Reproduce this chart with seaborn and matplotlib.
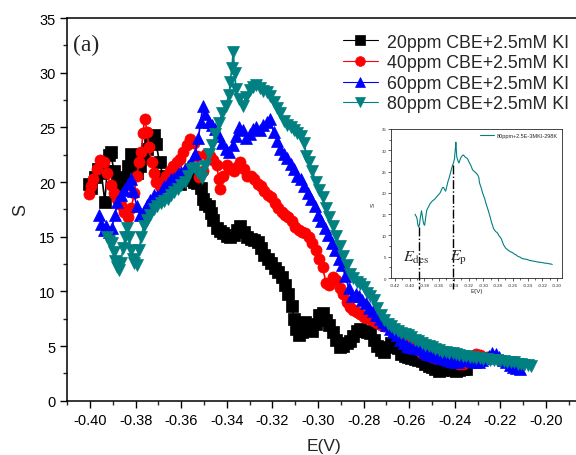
import matplotlib
matplotlib.use("Agg")
import matplotlib.pyplot as plt
import seaborn as sns
from matplotlib.ticker import MultipleLocator

# 20ppm CBE + 2.5mM KI
e20 = [-0.4005, -0.3995, -0.398, -0.3965, -0.395, -0.3935, -0.3925, -0.3915, -0.391, -0.3895,
       -0.388, -0.3865, -0.385, -0.3835, -0.382, -0.381, -0.3795, -0.378, -0.3765, -0.375,
       -0.3735, -0.372, -0.371, -0.3695, -0.368, -0.3665, -0.365, -0.3635, -0.362, -0.3605,
       -0.359, -0.3575, -0.356, -0.3545, -0.353, -0.3515, -0.3505, -0.3495, -0.348, -0.347,
       -0.346, -0.3445, -0.343, -0.3415, -0.34, -0.3385, -0.337, -0.3355, -0.334, -0.3325,
       -0.331, -0.3295, -0.328, -0.3265, -0.325, -0.3235, -0.322, -0.3205, -0.319, -0.3175,
       -0.316, -0.3145, -0.313, -0.3115, -0.3105, -0.3095, -0.3085, -0.307, -0.3055, -0.304,
       -0.3025, -0.301, -0.2995, -0.298, -0.2965, -0.295, -0.2935, -0.292, -0.2905, -0.289,
       -0.2875, -0.286, -0.2845, -0.283, -0.2815, -0.28, -0.2785, -0.277, -0.2755, -0.274,
       -0.2725, -0.271, -0.2695, -0.268, -0.2665, -0.265, -0.2635, -0.262, -0.2605, -0.259,
       -0.2575, -0.256, -0.2545, -0.253, -0.2515, -0.25, -0.2485, -0.247, -0.2455, -0.244,
       -0.2425, -0.241, -0.2395, -0.238, -0.2365, -0.235]
s20 = [19.8, 19.5, 20.5, 21.2, 20.8, 18.2, 21.0, 22.5, 22.8, 21.0,
       20.0, 19.4, 20.5, 21.5, 22.6, 22.0, 20.8, 21.5, 22.3, 23.0,
       23.8, 24.3, 23.5, 21.8, 20.6, 20.0, 20.4, 20.8, 20.2, 19.8,
       20.2, 20.6, 20.3, 20.0, 19.9, 19.5, 18.5, 18.0, 17.8, 17.2,
       16.5, 15.8, 15.5, 15.3, 15.1, 15.0, 15.2, 15.6, 16.0, 15.4,
       15.0, 14.8, 14.7, 14.5, 14.0, 13.3, 13.0, 12.6, 12.1, 11.8,
       11.3, 10.6, 9.8, 8.7, 7.5, 6.6, 6.0, 6.3, 7.2, 6.8,
       6.4, 7.0, 7.8, 8.0, 7.4, 6.9, 6.3, 5.6, 4.9, 5.0,
       5.3, 5.5, 5.9, 6.4, 6.6, 6.4, 6.3, 6.2, 5.6, 5.0,
       4.6, 4.5, 4.9, 5.3, 5.3, 4.8, 4.3, 4.1, 4.0, 3.9,
       3.8, 3.7, 3.6, 3.4, 3.2, 3.1, 2.9, 2.7, 2.8, 3.4,
       3.2, 2.8, 2.7, 2.8, 2.9, 2.9]

# 40ppm CBE + 2.5mM KI
e40 = [-0.4005, -0.3995, -0.3985, -0.397, -0.3955, -0.394, -0.3925, -0.391, -0.3895, -0.388,
       -0.3865, -0.385, -0.3835, -0.382, -0.3805, -0.3795, -0.3785, -0.3775, -0.3768, -0.376,
       -0.375, -0.3742, -0.373, -0.372, -0.371, -0.3695, -0.368, -0.3665, -0.365, -0.3635,
       -0.362, -0.3605, -0.359, -0.3575, -0.356, -0.3545, -0.353, -0.352, -0.3505, -0.349,
       -0.3475, -0.346, -0.3445, -0.3435, -0.343, -0.3415, -0.34, -0.3385, -0.337, -0.3355,
       -0.334, -0.3325, -0.331, -0.3295, -0.328, -0.3265, -0.325, -0.3235, -0.322, -0.3205,
       -0.319, -0.3175, -0.316, -0.3145, -0.313, -0.3115, -0.31, -0.3085, -0.307, -0.3055,
       -0.304, -0.3025, -0.301, -0.2995, -0.298, -0.2965, -0.295, -0.2935, -0.292, -0.2905,
       -0.289, -0.2875, -0.286, -0.2845, -0.283, -0.2815, -0.28, -0.2785, -0.277, -0.2755,
       -0.274, -0.2725, -0.271, -0.2695, -0.268, -0.2665, -0.265, -0.2635, -0.262, -0.2605,
       -0.259, -0.2575, -0.256, -0.2545, -0.253, -0.2515, -0.25, -0.2485, -0.247, -0.2455,
       -0.244, -0.2425, -0.241, -0.2395, -0.238, -0.2365, -0.235, -0.2335, -0.232, -0.2305,
       -0.229, -0.2275, -0.226]
s40 = [18.9, 19.6, 20.3, 21.2, 22.0, 21.8, 20.8, 19.7, 19.0, 18.5,
       17.9, 17.3, 16.8, 17.6, 19.0, 20.6, 21.8, 22.8, 24.5, 25.8,
       24.6, 23.2, 21.8, 20.8, 20.0, 19.6, 20.0, 20.6, 21.0, 21.5,
       21.8, 22.1, 22.8, 23.4, 23.9, 23.6, 22.4, 20.5, 21.0, 22.6,
       22.4, 22.0, 21.6, 20.3, 19.4, 20.6, 21.6, 21.2, 21.0, 21.4,
       21.8, 21.2, 20.6, 20.6, 20.3, 19.8, 19.6, 19.2, 18.8, 18.6,
       18.1, 17.6, 17.3, 17.0, 16.8, 16.4, 15.9, 15.6, 15.4, 15.3,
       15.0, 14.4, 13.8, 13.0, 12.2, 10.8, 10.6, 11.3, 11.0, 10.3,
       9.8, 9.0, 8.6, 8.3, 8.1, 7.9, 7.7, 7.6, 7.5, 7.3,
       7.1, 6.9, 6.8, 6.8, 6.7, 6.6, 6.4, 6.0, 5.6, 5.3,
       5.0, 4.8, 4.6, 4.4, 4.3, 4.2, 4.0, 3.9, 3.9, 3.8,
       3.7, 3.6, 3.6, 3.5, 3.4, 3.4, 3.6, 3.8, 4.1, 4.3,
       4.2, 4.0, 4.0]

# 60ppm CBE + 2.5mM KI
e60 = [-0.396, -0.395, -0.394, -0.393, -0.3915, -0.3905, -0.389, -0.388, -0.3865, -0.385,
       -0.3835, -0.382, -0.381, -0.3795, -0.378, -0.3765, -0.375, -0.3735, -0.372, -0.3705,
       -0.369, -0.3675, -0.366, -0.3645, -0.363, -0.3615, -0.36, -0.3585, -0.357, -0.3555,
       -0.354, -0.3525, -0.3515, -0.3505, -0.3495, -0.348, -0.3465, -0.345, -0.3435, -0.342,
       -0.3405, -0.339, -0.3375, -0.336, -0.3345, -0.333, -0.3315, -0.33, -0.3285, -0.327,
       -0.3255, -0.324, -0.3225, -0.321, -0.3195, -0.318, -0.3165, -0.315, -0.3135, -0.312,
       -0.3105, -0.309, -0.3075, -0.306, -0.3045, -0.303, -0.3015, -0.3, -0.2985, -0.297,
       -0.2955, -0.294, -0.2925, -0.291, -0.2895, -0.288, -0.2865, -0.285, -0.2835, -0.282,
       -0.2805, -0.279, -0.2775, -0.276, -0.2745, -0.273, -0.2715, -0.27, -0.2685, -0.267,
       -0.2655, -0.264, -0.2625, -0.261, -0.2595, -0.258, -0.2565, -0.255, -0.2535, -0.252,
       -0.2505, -0.249, -0.2475, -0.246, -0.2445, -0.243, -0.2415, -0.24, -0.2385, -0.237,
       -0.2355, -0.234, -0.2325, -0.231, -0.2295, -0.228, -0.2265, -0.225, -0.2235, -0.222,
       -0.2205, -0.219, -0.2175, -0.216, -0.2145, -0.213, -0.2115]
s60 = [17.0, 16.2, 15.6, 16.0, 15.4, 15.8, 17.0, 18.2, 18.8, 19.3,
       19.8, 20.3, 19.2, 17.8, 17.0, 17.4, 17.9, 18.4, 18.8, 18.7,
       19.1, 19.6, 19.9, 20.3, 20.4, 20.7, 20.9, 21.2, 21.5, 21.8,
       22.6, 24.0, 25.5, 27.0, 26.2, 25.5, 25.2, 24.9, 24.2, 23.6,
       23.0, 22.8, 23.4, 24.2, 25.0, 24.8, 24.0, 24.4, 24.9, 25.0,
       24.8, 25.2, 25.5, 25.8, 24.6, 23.8, 23.0, 22.6, 22.2, 21.7,
       21.2, 20.6, 20.3, 19.6, 19.0, 18.5, 17.8, 17.0, 16.4, 15.8,
       15.2, 14.4, 13.8, 13.0, 12.4, 11.4, 10.3, 9.6, 9.8, 9.6,
       9.2, 8.9, 8.5, 8.2, 7.8, 7.5, 7.2, 6.9, 6.6, 6.3,
       6.0, 5.6, 5.3, 5.0, 4.9, 4.8, 4.8, 4.7, 4.5, 4.3,
       4.2, 4.1, 4.0, 3.9, 3.8, 3.7, 3.6, 3.5, 3.5, 3.7,
       3.8, 3.7, 3.6, 3.5, 3.5, 3.7, 3.9, 4.1, 4.4, 4.3,
       4.0, 3.7, 3.5, 3.3, 3.1, 3.0, 2.9]

# 80ppm CBE + 2.5mM KI
e80 = [-0.3925, -0.3915, -0.3905, -0.3895, -0.389, -0.3882, -0.3875, -0.3865, -0.3855, -0.3845,
       -0.3838, -0.383, -0.382, -0.3812, -0.3805, -0.3795, -0.3785, -0.3775, -0.3765, -0.375,
       -0.3735, -0.372, -0.3705, -0.369, -0.3675, -0.366, -0.3645, -0.363, -0.3615, -0.36,
       -0.3585, -0.357, -0.3555, -0.354, -0.3525, -0.351, -0.3495, -0.348, -0.3465, -0.345,
       -0.3435, -0.342, -0.3405, -0.339, -0.3385, -0.3378, -0.3372, -0.3365, -0.336, -0.3345,
       -0.333, -0.3315, -0.33, -0.3285, -0.327, -0.3255, -0.324, -0.3225, -0.321, -0.3195,
       -0.318, -0.3165, -0.315, -0.3135, -0.312, -0.3105, -0.309, -0.3075, -0.306, -0.3052,
       -0.304, -0.3025, -0.301, -0.2995, -0.298, -0.2965, -0.295, -0.2935, -0.292, -0.2905,
       -0.289, -0.2875, -0.286, -0.2845, -0.283, -0.2815, -0.28, -0.2785, -0.277, -0.2755,
       -0.274, -0.2725, -0.271, -0.2695, -0.268, -0.2665, -0.265, -0.2635, -0.262, -0.2605,
       -0.259, -0.2575, -0.256, -0.2545, -0.253, -0.2515, -0.25, -0.2485, -0.247, -0.2455,
       -0.244, -0.2425, -0.241, -0.2395, -0.238, -0.2365, -0.235, -0.2335, -0.232, -0.2305,
       -0.229, -0.2275, -0.226, -0.2245, -0.223, -0.2215, -0.22, -0.2185, -0.217, -0.2155,
       -0.214, -0.2125, -0.211, -0.2095, -0.208, -0.2065]
s80 = [15.0, 14.6, 14.4, 13.6, 12.8, 12.2, 12.0, 12.6, 14.0, 15.0,
       15.8, 15.0, 13.8, 13.0, 12.6, 12.4, 13.8, 15.0, 16.0, 16.5,
       17.0, 17.5, 17.8, 18.1, 18.3, 18.5, 18.8, 19.1, 19.4, 19.7,
       20.0, 20.6, 21.2, 21.3, 20.8, 20.4, 21.5, 22.6, 23.4, 24.4,
       25.4, 26.3, 27.0, 28.0, 29.2, 30.4, 31.9, 30.0, 28.5, 27.6,
       27.0, 27.8, 28.4, 28.7, 28.9, 28.6, 28.3, 28.2, 27.9, 27.3,
       26.8, 26.3, 25.6, 25.2, 25.0, 24.8, 24.5, 24.2, 23.6, 22.4,
       21.8, 21.0, 20.0, 19.3, 18.6, 17.6, 16.8, 16.0, 15.1, 14.2,
       13.2, 12.4, 11.6, 11.2, 10.9, 10.7, 10.4, 9.9, 9.6, 9.2,
       8.5, 7.8, 7.4, 7.0, 6.8, 6.6, 6.4, 6.2, 6.1, 6.0,
       5.8, 5.6, 5.5, 5.3, 5.1, 5.0, 4.9, 4.7, 4.6, 4.5,
       4.5, 4.4, 4.4, 4.3, 4.2, 4.1, 4.1, 4.0, 4.0, 3.9,
       3.9, 3.8, 3.8, 3.7, 3.7, 3.7, 3.6, 3.6, 3.5, 3.5,
       3.5, 3.4, 3.4, 3.3, 3.3, 3.2]

labels = ["20ppm CBE+2.5mM KI", "40ppm CBE+2.5mM KI",
          "60ppm CBE+2.5mM KI", "80ppm CBE+2.5mM KI"]
colors = ["black", "#ff0000", "#0000ff", "#008080"]
markers = ["s", "o", "^", "v"]

inset_label = "80ppm+2.5E-3MKI-298K"
e_des, s_des = -0.3875, 11.9
e_p, s_p = -0.341, 26.5

sns.set_style("ticks")
plt.rcParams["font.family"] = ["Liberation Sans", "DejaVu Sans"]
plt.rcParams["mathtext.fontset"] = "stix"

fig = plt.figure(figsize=(5.76, 4.56), dpi=100)
# right edge of the frame sits just outside the picture, as in the source
ax = fig.add_axes([0.1167, 0.119, 0.8906, 0.839])

series = [(e20, s20), (e40, s40), (e60, s60), (e80, s80)]
for (e, s), lab, c, m in zip(series, labels, colors, markers):
    ms = 8.5 if m in ("^", "v") else 8
    sns.lineplot(x=e, y=s, ax=ax, sort=False, estimator=None, color=c, lw=1.2,
                 marker=m, markersize=ms, markeredgecolor=c, markeredgewidth=0.5,
                 label=lab)

ax.set_xlim(-0.41, -0.185)
ax.set_ylim(0, 35)
ax.xaxis.set_minor_locator(MultipleLocator(0.01))
ax.yaxis.set_major_locator(MultipleLocator(5))
ax.yaxis.set_minor_locator(MultipleLocator(2.5))
ax.set_xticks([-0.40 + 0.02 * i for i in range(11)])
ax.set_xticklabels(["-0.40", "-0.38", "-0.36", "-0.34", "-0.32", "-0.30",
                    "-0.28", "-0.26", "-0.24", "-0.22", "-0.20"])
ax.tick_params(axis="both", which="major", direction="out", length=5, width=1,
               labelsize=10.5, colors="black")
ax.tick_params(axis="both", which="minor", direction="out", length=3, width=1)
for sp in ax.spines.values():
    sp.set_linewidth(1.1)
    sp.set_color("black")
ax.set_xlabel("E(V)", fontsize=12.5, labelpad=8)
ax.set_ylabel("S", fontsize=13, labelpad=7)

ax.text(0.012, 0.93, "(a)", transform=ax.transAxes, fontsize=17,
        family="Liberation Serif", va="center", ha="left")

leg = ax.legend(loc="upper left", bbox_to_anchor=(0.595, 0.924),
                bbox_transform=fig.transFigure, frameon=False, fontsize=12.8,
                borderaxespad=0, borderpad=0, labelspacing=0.2,
                handlelength=2.0, handletextpad=0.5)
for h in leg.legend_handles:
    h.set_linewidth(0.8)
    h.set_markersize(7)

# inset
ins = fig.add_axes([0.679, 0.388, 0.297, 0.327])
sns.lineplot(x=e80, y=s80, ax=ins, sort=False, estimator=None, color="#008080",
             lw=0.8, label=inset_label)
ins.set_xlim(-0.425, -0.193)
ins.set_ylim(0, 35)
ins.set_xticks([-0.42 + 0.02 * i for i in range(12)])
ins.set_xticklabels(["-0.42", "-0.40", "-0.38", "-0.36", "-0.34", "-0.32",
                     "-0.30", "-0.28", "-0.26", "-0.24", "-0.22", "-0.20"])
ins.xaxis.set_minor_locator(MultipleLocator(0.01))
ins.yaxis.set_major_locator(MultipleLocator(5))
ins.yaxis.set_minor_locator(MultipleLocator(2.5))
ins.tick_params(axis="both", which="major", direction="out", length=2, width=0.5,
                labelsize=3.2, pad=1.5)
ins.tick_params(axis="both", which="minor", direction="out", length=1.2, width=0.5)
for sp in ins.spines.values():
    sp.set_linewidth(0.6)
ins.set_xlabel("E(V)", fontsize=4.5, labelpad=1)
ins.set_ylabel("S", fontsize=4.5, labelpad=4)
ins.legend(loc="upper right", frameon=False, fontsize=4, handlelength=2.5,
           borderaxespad=0.3, handletextpad=0.5)

for ex, top in ((e_des, s_des), (e_p, s_p)):
    ins.plot([ex, ex], [top, -2.6], color="black", lw=1.0, ls="-.", clip_on=False)
ins.text(-0.4085, 4.9, r"$E_{\rm des}$", fontsize=11.5, ha="left", va="center")
ins.text(-0.3445, 4.9, r"$E_{\rm p}$", fontsize=11.5, ha="left", va="center")

fig.savefig("out.png", dpi=100)
